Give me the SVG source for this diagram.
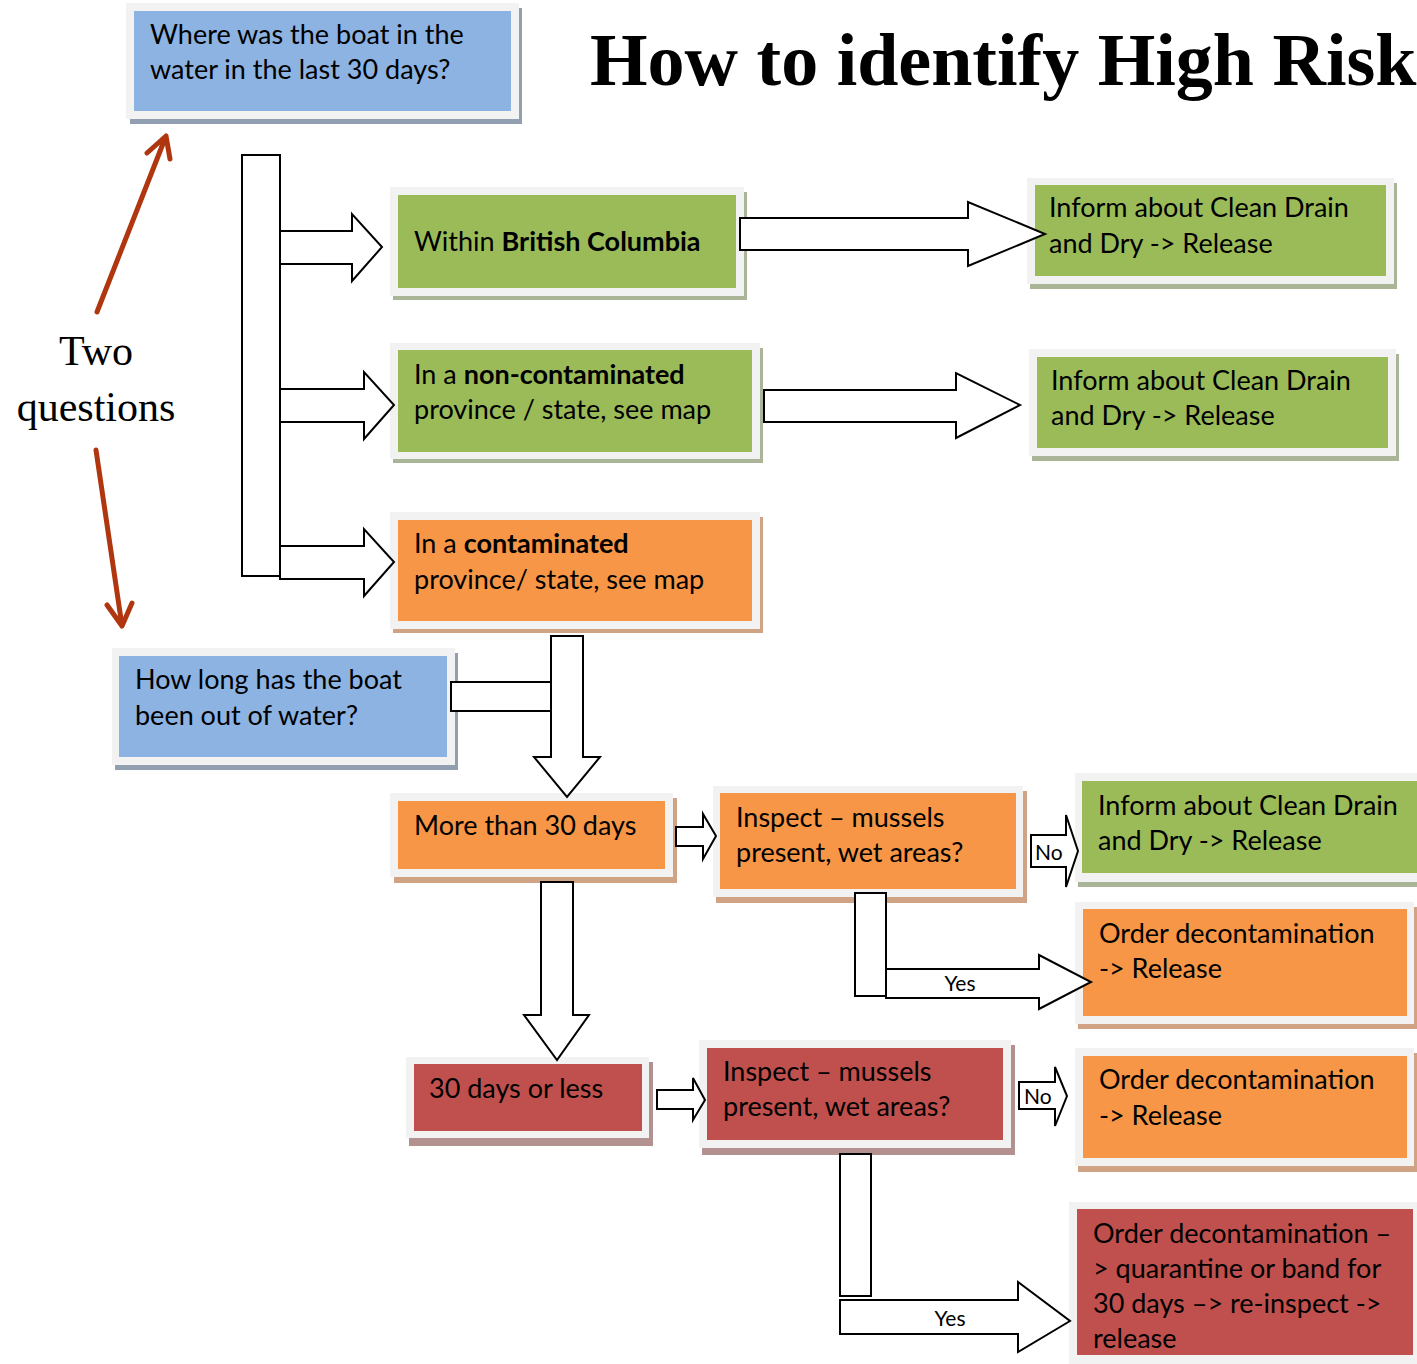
<svg xmlns="http://www.w3.org/2000/svg" width="1417" height="1364" viewBox="0 0 1417 1364">
<defs>
<style>
.frame{fill:#f2f2f2}
.t{font-family:Lato,"Liberation Sans",sans-serif;font-size:27px;fill:#000}
.b{font-weight:bold}
.lbl{font-family:Lato,"Liberation Sans",sans-serif;font-size:21px;fill:#000}
.blk{fill:#fff;stroke:#000;stroke-width:2;stroke-linejoin:miter}
.blue{fill:#8db3e2}.sblue{fill:#929fb1}
.green{fill:#9bbb59}.sgreen{fill:#aab496}
.orange{fill:#f79646}.sorange{fill:#cfa383}
.red{fill:#c0504d}.sred{fill:#b39190}
.note{font-family:"Liberation Serif",serif;font-size:42px;fill:#000}
.title{font-family:"Liberation Serif",serif;font-size:74px;font-weight:bold;fill:#000}
.red-arrow{fill:none;stroke:#b0360f;stroke-width:5;stroke-linecap:round;stroke-linejoin:round}
</style>
</defs>
<rect width="1417" height="1364" fill="#fff"/>

<text class="title" x="590" y="85">How to identify High Risk</text>

<g id="note-two-questions">
<text class="note" x="96" y="365" text-anchor="middle">Two</text>
<text class="note" x="96" y="421" text-anchor="middle">questions</text>
<path class="red-arrow" d="M97,312 L166,136 M147,153 L166,136 L170,159"/>
<path class="red-arrow" d="M96,450 L122,626 M107,605 L122,626 L132,603"/>
</g>

<g id="q1">
<rect class="sblue" x="130" y="8" width="392" height="116"/>
<rect class="frame" x="126" y="3" width="393" height="116"/>
<rect class="blue" x="134" y="11" width="377" height="100"/>
<text class="t" x="150" y="44">Where was the boat in the</text>
<text class="t" x="150" y="79">water in the last 30 days?</text>
</g>

<g id="bc">
<rect class="sgreen" x="393" y="192" width="354" height="108"/>
<rect class="frame" x="390" y="187" width="354" height="109"/>
<rect class="green" x="398" y="195" width="338" height="93"/>
<text class="t" x="414" y="251">Within <tspan class="b">British Columbia</tspan></text>
</g>

<g id="noncontam">
<rect class="sgreen" x="393" y="348" width="370" height="115"/>
<rect class="frame" x="390" y="343" width="370" height="116"/>
<rect class="green" x="398" y="350" width="354" height="102"/>
<text class="t" x="414" y="384">In a <tspan class="b">non-contaminated</tspan></text>
<text class="t" x="414" y="419">province / state, see map</text>
</g>

<g id="contam">
<rect class="sorange" x="393" y="517" width="370" height="116"/>
<rect class="frame" x="390" y="512" width="370" height="117"/>
<rect class="orange" x="398" y="520" width="354" height="101"/>
<text class="t" x="414" y="553">In a <tspan class="b">contaminated</tspan></text>
<text class="t" x="414" y="589">province/ state, see map</text>
</g>

<g id="informA">
<rect class="sgreen" x="1030" y="183" width="367" height="106"/>
<rect class="frame" x="1027" y="178" width="367" height="106"/>
<rect class="green" x="1035" y="185" width="351" height="91"/>
<text class="t" x="1049" y="217">Inform about Clean Drain</text>
<text class="t" x="1049" y="253">and Dry -&gt; Release</text>
</g>

<g id="informB">
<rect class="sgreen" x="1032" y="354" width="367" height="107"/>
<rect class="frame" x="1029" y="349" width="367" height="107"/>
<rect class="green" x="1037" y="357" width="351" height="91"/>
<text class="t" x="1051" y="390">Inform about Clean Drain</text>
<text class="t" x="1051" y="425">and Dry -&gt; Release</text>
</g>

<g id="q2">
<rect class="sblue" x="115" y="653" width="343" height="117"/>
<rect class="frame" x="112" y="648" width="343" height="117"/>
<rect class="blue" x="119" y="656" width="328" height="101"/>
<text class="t" x="135" y="689">How long has the boat</text>
<text class="t" x="135" y="725">been out of water?</text>
</g>

<g id="more30">
<rect class="sorange" x="394" y="798" width="283" height="85"/>
<rect class="frame" x="390" y="793" width="283" height="84"/>
<rect class="orange" x="398" y="801" width="267" height="68"/>
<text class="t" x="414" y="835">More than 30 days</text>
</g>

<g id="inspect1">
<rect class="sorange" x="716" y="791" width="311" height="112"/>
<rect class="frame" x="713" y="786" width="310" height="111"/>
<rect class="orange" x="720" y="793" width="296" height="96"/>
<text class="t" x="736" y="827">Inspect – mussels</text>
<text class="t" x="736" y="862">present, wet areas?</text>
</g>

<g id="informC">
<rect class="sgreen" x="1078" y="778" width="345" height="109"/>
<rect class="frame" x="1075" y="773" width="345" height="109"/>
<rect class="green" x="1082" y="781" width="340" height="92"/>
<text class="t" x="1098" y="815">Inform about Clean Drain</text>
<text class="t" x="1098" y="850">and Dry -&gt; Release</text>
</g>

<g id="orderD">
<rect class="sorange" x="1078" y="907" width="340" height="122"/>
<rect class="frame" x="1075" y="902" width="339" height="122"/>
<rect class="orange" x="1083" y="909" width="324" height="107"/>
<text class="t" x="1099" y="943">Order decontamination</text>
<text class="t" x="1099" y="978">-&gt; Release</text>
</g>

<g id="less30">
<rect class="sred" x="409" y="1062" width="244" height="84"/>
<rect class="frame" x="406" y="1057" width="243" height="81"/>
<rect class="red" x="414" y="1064" width="228" height="67"/>
<text class="t" x="429" y="1098">30 days or less</text>
</g>

<g id="inspect2">
<rect class="sred" x="702" y="1045" width="313" height="110"/>
<rect class="frame" x="699" y="1040" width="312" height="108"/>
<rect class="red" x="707" y="1048" width="296" height="92"/>
<text class="t" x="723" y="1081">Inspect – mussels</text>
<text class="t" x="723" y="1116">present, wet areas?</text>
</g>

<g id="orderE">
<rect class="sorange" x="1078" y="1053" width="340" height="119"/>
<rect class="frame" x="1075" y="1048" width="339" height="118"/>
<rect class="orange" x="1083" y="1056" width="324" height="102"/>
<text class="t" x="1099" y="1089">Order decontamination</text>
<text class="t" x="1099" y="1125">-&gt; Release</text>
</g>

<g id="orderF">
<rect class="frame" x="1069" y="1202" width="351" height="162"/>
<rect class="red" x="1077" y="1209" width="336" height="146"/>
<text class="t" x="1093" y="1243">Order decontamination –</text>
<text class="t" x="1093" y="1278">&gt; quarantine or band for</text>
<text class="t" x="1093" y="1313">30 days –&gt; re-inspect -&gt;</text>
<text class="t" x="1093" y="1348">release</text>
</g>

<g id="connectors">
<rect class="blk" x="242" y="155" width="38" height="421"/>
<path class="blk" d="M280,231 H352 V214 L382,247 L352,281 V264 H280 Z"/>
<path class="blk" d="M280,389 H364 V372 L394,405 L364,439 V422 H280 Z"/>
<path class="blk" d="M280,546 H364 V529 L394,562 L364,596 V579 H280 Z"/>
<path class="blk" d="M740,218 H968 V202 L1045,234 L968,266 V250 H740 Z"/>
<path class="blk" d="M764,390 H956 V373 L1020,405 L956,438 V422 H764 Z"/>
<rect class="blk" x="451" y="682" width="100" height="29"/>
<path class="blk" d="M551,636 V757 H534 L567,797 L600,757 H583 V636 Z"/>
<path class="blk" d="M541,882 V1015 H524 L557,1060 L589,1015 H573 V882 Z"/>
<path class="blk" d="M676,827 H703 V814 L716,836 L703,859 V846 H676 Z"/>
<path class="blk" d="M1031,835 H1066 V815 L1078,851 L1066,887 V867 H1031 Z"/>
<text class="lbl" x="1035" y="860">No</text>
<rect class="blk" x="855" y="893" width="31" height="103"/>
<path class="blk" d="M886,969 H1039 V955 L1091,982 L1039,1009 V998 H886 Z"/>
<text class="lbl" x="960" y="991" text-anchor="middle">Yes</text>
<path class="blk" d="M657,1090 H693 V1078 L705,1100 L693,1120 V1109 H657 Z"/>
<path class="blk" d="M1019,1082 H1055 V1067 L1067,1096 L1055,1126 V1109 H1019 Z"/>
<text class="lbl" x="1024" y="1104">No</text>
<rect class="blk" x="840" y="1154" width="31" height="142"/>
<path class="blk" d="M840,1300 H1018 V1282 L1070,1321 L1018,1352 V1334 H840 Z"/>
<text class="lbl" x="950" y="1326" text-anchor="middle">Yes</text>
</g>
</svg>
